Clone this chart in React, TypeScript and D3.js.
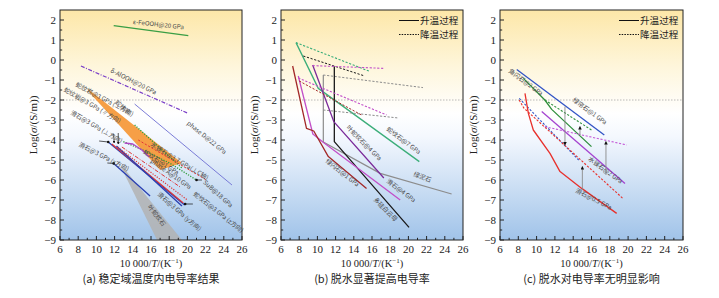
import React from "react";
import * as d3 from "d3";

const W = 719, H = 298;
const TOP = 10, PH = 230;
const X_DOMAIN: [number, number] = [6, 26];
const Y_DOMAIN: [number, number] = [-9, 2.5];
const X_TICKS = d3.range(6, 27, 2);
const X_MINOR = d3.range(7, 26, 2);
const Y_TICKS = d3.range(-9, 3, 1);
const Y_MINOR = d3.range(-8.5, 2.5, 1);

// ---------- Panel (a) data ----------
const a_FeOOH = [[11.9, 1.72], [20.1, 1.22]];
const a_AlOOH = [[8.3, -0.3], [20.1, -2.67]];
const a_phaseD = [[14.2, -2.2], [24.9, -6.25]];
const a_serpBand = [[9.08, -1.45], [19.4, -5.15], [17.0, -5.5], [9.08, -1.55]];
const a_antigBand = [[12.7, -5.35], [13.0, -5.4], [19.4, -9], [16.66, -9]];
const a_blue1 = [[11.3, -4.1], [19.7, -7.25]];
const a_blue2 = [[12.2, -4.3], [19.4, -7.3]];
const a_red1 = [[11.7, -4.2], [19.55, -7.15]];
const a_blueShort = [[11.9, -5.17], [15.9, -6.8]];
const a_redDash = [[12.3, -4.35], [20.0, -7.0]];
const a_phaseA = [[12.8, -4.35], [19.2, -6.35]];
const a_SuB = [[12.96, -4.08], [15.5, -4.58], [18.1, -5.17], [21.0, -6.0]];
const a_purple = [[13.1, -4.15], [14.0, -4.2], [15.0, -4.5], [15.8, -4.85]];
const a_bruciteG = [[14.2, -3.25], [19.4, -5.4]];
const a_bruciteR = [[14.6, -4.0], [22.1, -6.0]];

// ---------- Panel (b) data ----------
const b_greenUp = [[7.65, 0.87], [10.1, -1.42], [21.2, -5.08]];
const b_greenDown = [[7.65, 0.87], [15.8, -0.58]];
const b_blackUp = [[11.86, -0.33], [11.86, -4.08], [20.07, -8.37]];
const b_blackDown = [[8.45, 0.2], [15.2, -0.8]];
const b_grayUp = [[10.65, -0.75], [10.65, -4.1], [16.9, -5.67], [24.75, -6.7]];
const b_grayDown1 = [[10.65, -0.75], [21.6, -1.38]];
const b_grayDown2 = [[10.65, -2.5], [18.9, -2.9]];
const b_purpleUp = [[9.48, -0.25], [11.8, -3.08], [17.3, -5.9]];
const b_purpleDown = [[9.48, -0.28], [17.4, -0.42]];
const b_magentaUp = [[7.9, -0.8], [9.5, -3.7], [10.6, -4.1], [19.1, -7.0]];
const b_magentaDown = [[7.9, -0.9], [17.6, -2.75]];
const b_redUp = [[7.28, -0.3], [8.8, -3.42], [9.6, -3.55], [11.2, -4.83], [15.4, -6.42]];
const b_redDown = [[8.0, -1.05], [14.85, -2.75]];

// ---------- Panel (c) data ----------
const c_blueUp = [[7.83, -0.47], [17.4, -3.75]];
const c_blueDown = [[8.1, -1.92], [14.6, -5.0]];
const c_greenUp = [[8.55, -0.92], [10.9, -2.0], [11.65, -2.47], [16.0, -4.33]];
const c_greenDown = [[10.9, -2.0], [16.0, -3.5]];
const c_purpleUp = [[10.56, -2.58], [19.66, -6.17]];
const c_purpleDown = [[10.9, -3.33], [19.85, -4.25]];
const c_redUp = [[8.73, -1.67], [9.1, -2.67], [9.64, -3.5], [11.46, -4.67], [12.56, -5.58], [14.93, -6.42], [18.75, -7.67]];
const c_redDown = [[8.1, -2.0], [8.6, -2.4], [19.5, -6.95]];
const c_arrows = [[13.1, -2.33, -4.25], [14.74, -3.75, -3.33], [17.58, -5.75, -4.08], [15.0, -6.5, -5.33]];

type Pt = number[];
interface Series { pts: Pt[]; color: string; dash?: string; w?: number }
interface Label { text: string; x: number; y: number; a: number }

const DASH = "2.2,1.6";
const DOT = "1.2,1.4";
const DASHDOT = "4,1.5,1,1.5";

const seriesA: Series[] = [
  { pts: a_FeOOH, color: "#3a9e45", w: 1.4 },
  { pts: a_AlOOH, color: "#7a3fc8", dash: DASHDOT, w: 1.2 },
  { pts: a_phaseD, color: "#6d6ed2", w: 0.9 },
  { pts: a_blue1, color: "#2a3fb2", w: 1.3 },
  { pts: a_red1, color: "#e03535", w: 1.1 },
  { pts: a_blue2, color: "#2a3fb2", w: 1.3 },
  { pts: a_blueShort, color: "#2a3fb2", w: 1.3 },
  { pts: a_redDash, color: "#e03535", dash: DOT, w: 1.2 },
  { pts: a_phaseA, color: "#e03535", dash: DASHDOT, w: 1.0 },
  { pts: a_SuB, color: "#2a9a35", dash: DOT, w: 1.3 },
  { pts: a_purple, color: "#b045c8", w: 1.3 },
  { pts: a_bruciteG, color: "#2a9a35", dash: DOT, w: 1.3 },
  { pts: a_bruciteR, color: "#e03535", dash: DASH, w: 1.0 },
];
const bandsA = [
  { pts: a_serpBand, color: "#f59a3c", op: 0.95 },
  { pts: a_antigBand, color: "#b3b3b3", op: 0.85 },
];
const labelsA: Label[] = [
  { text: "ε-FeOOH@20 GPa", x: 14.0, y: 1.8, a: 6 },
  { text: "δ-AlOOH@20 GPa", x: 11.5, y: -0.6, a: 27 },
  { text: "蛇纹岩@3 GPa (⊥方向)", x: 7.65, y: -1.3, a: 28 },
  { text: "蛇纹岩@3 GPa (∥方向)", x: 6.35, y: -1.55, a: 30 },
  { text: "滑石@3 GPa (⊥方向)", x: 7.1, y: -2.7, a: 30 },
  { text: "滑石@3 GPa (x方向)", x: 8.0, y: -4.3, a: 27 },
  { text: "蛇纹岩", x: 12.0, y: -2.15, a: 40 },
  { text: "phase D@22 GPa", x: 19.9, y: -3.2, a: 39 },
  { text: "水镁石@3.7 GPa(⊥C轴)", x: 15.9, y: -4.3, a: 31 },
  { text: "蛇纹石@1 GPa", x: 15.1, y: -4.65, a: 33 },
  { text: "phase A@10 GPa", x: 15.9, y: -5.1, a: 35 },
  { text: "SuB@18 GPa", x: 21.7, y: -6.15, a: 42 },
  { text: "蛇纹石@3 GPa (z方向)", x: 20.6, y: -6.75, a: 38 },
  { text: "滑石@3 GPa (y方向)", x: 16.66, y: -6.75, a: 41 },
  { text: "叶蛇纹石", x: 15.6, y: -7.35, a: 52 },
];
// leader lines [x1,y1,x2,y2,kind] kind 0 = dot end, 1 = arrow end
const leadersA = [
  [10.3, -4.05, 11.3, -4.1, 0],
  [11.2, -5.15, 11.9, -5.17, 0],
  [20.6, -7.2, 19.75, -7.2, 0],
  [21.6, -6.0, 21.0, -6.0, 0],
  [12.4, -3.65, 12.4, -4.2, 1],
  [11.9, -3.7, 11.95, -4.15, 1],
];

const seriesB: Series[] = [
  { pts: b_greenUp, color: "#3cae7a", w: 1.3 },
  { pts: b_greenDown, color: "#3cae7a", dash: DASH, w: 1.1 },
  { pts: b_grayUp, color: "#8c8c8c", w: 1.2 },
  { pts: b_grayDown1, color: "#8c8c8c", dash: DASH, w: 1.0 },
  { pts: b_grayDown2, color: "#8c8c8c", dash: DASH, w: 1.0 },
  { pts: b_blackUp, color: "#1a1a1a", w: 1.3 },
  { pts: b_blackDown, color: "#1a1a1a", dash: DASH, w: 1.0 },
  { pts: b_purpleUp, color: "#7b2b9a", w: 1.3 },
  { pts: b_purpleDown, color: "#c24fc8", dash: DASH, w: 1.1 },
  { pts: b_magentaUp, color: "#c24fc8", w: 1.3 },
  { pts: b_magentaDown, color: "#c24fc8", dash: DASH, w: 1.1 },
  { pts: b_redUp, color: "#a32828", w: 1.3 },
  { pts: b_redDown, color: "#a32828", dash: DASH, w: 1.0 },
];
const labelsB: Label[] = [
  { text: "叶蛇纹石@4 GPa", x: 13.14, y: -3.4, a: 45 },
  { text: "蛇纹石@7 GPa", x: 17.54, y: -3.5, a: 37 },
  { text: "绿泥石", x: 20.5, y: -5.8, a: 20 },
  { text: "滑石@4 GPa", x: 17.54, y: -6.1, a: 37 },
  { text: "绿闪石@1 GPa", x: 10.84, y: -5.1, a: 38 },
  { text: "多硅白云母", x: 16.1, y: -7.0, a: 45 },
];

const seriesC: Series[] = [
  { pts: c_blueUp, color: "#3355c6", w: 1.3 },
  { pts: c_blueDown, color: "#3355c6", dash: DASH, w: 1.1 },
  { pts: c_greenUp, color: "#2f8f3c", w: 1.3 },
  { pts: c_greenDown, color: "#2f8f3c", dash: DASH, w: 1.1 },
  { pts: c_purpleUp, color: "#a544d0", w: 1.3 },
  { pts: c_purpleDown, color: "#c45ad8", dash: DASH, w: 1.1 },
  { pts: c_redUp, color: "#e8302c", w: 1.3 },
  { pts: c_redDown, color: "#e8302c", dash: DASH, w: 1.1 },
];
const labelsC: Label[] = [
  { text: "角闪石@2 GPa", x: 6.87, y: -0.6, a: 36 },
  { text: "绿帘石@1 GPa", x: 13.87, y: -2.05, a: 36 },
  { text: "水镁石@2 GPa", x: 15.6, y: -5.0, a: 36 },
  { text: "滑石@0.5 GPa", x: 14.2, y: -6.6, a: 27 },
];

const CAPTIONS = ["(a) 稳定域温度内电导率结果", "(b) 脱水显著提高电导率", "(c) 脱水对电导率无明显影响"];
const LEGEND = ["升温过程", "降温过程"];

const SERIF = "'Liberation Serif','Times New Roman',serif";
const CJK = "'Noto Sans CJK SC','Noto Sans',sans-serif";

function Panel(props: {
  left: number; width: number; series: Series[]; labels: Label[];
  bands?: { pts: Pt[]; color: string; op: number }[];
  leaders?: number[][]; arrows?: number[][]; legend?: boolean; caption: string;
}) {
  const { left, width, series, labels, bands = [], leaders = [], arrows = [], legend, caption } = props;
  const x = d3.scaleLinear().domain(X_DOMAIN).range([left, left + width]);
  const y = d3.scaleLinear().domain(Y_DOMAIN).range([TOP + PH, TOP]);
  const line = d3.line<Pt>().x(d => x(d[0])).y(d => y(d[1]));
  const bottom = TOP + PH;
  const right = left + width;
  const cx = left + width / 2;
  return (
    <g>
      <rect x={left} y={TOP} width={width} height={PH} fill="url(#bg)" />
      <line x1={left} x2={right} y1={y(-2)} y2={y(-2)} stroke="#a8a8a8" strokeWidth={0.8} strokeDasharray="1.5,1.5" />
      {bands.map((b, i) => (
        <path key={"b" + i} d={line(b.pts) + "Z"} fill={b.color} opacity={b.op} />
      ))}
      {series.map((s, i) => (
        <path key={"s" + i} d={line(s.pts) || ""} fill="none" stroke={s.color} strokeWidth={s.w || 1.2} strokeDasharray={s.dash} strokeLinejoin="round" />
      ))}
      {arrows.map((a, i) => (
        <line key={"a" + i} x1={x(a[0])} x2={x(a[0])} y1={y(a[1])} y2={y(a[2])} stroke="#8a8a8a" strokeWidth={0.9} markerEnd="url(#arr)" />
      ))}
      {leaders.map((l, i) => (
        <g key={"l" + i}>
          <line x1={x(l[0])} y1={y(l[1])} x2={x(l[2])} y2={y(l[3])} stroke="#111" strokeWidth={0.7} markerEnd={l[4] ? "url(#arr)" : undefined} />
          {l[4] ? null : <circle cx={x(l[2])} cy={y(l[3])} r={1.3} fill="#111" />}
        </g>
      ))}
      {labels.map((t, i) => (
        <text key={"t" + i} transform={`translate(${x(t.x)},${y(t.y)}) rotate(${t.a})`} fontFamily={CJK} fontSize={6.2} fill="#4a4a4a">{t.text}</text>
      ))}
      {legend && (
        <g fontFamily={CJK} fontSize={9.6} fill="#222">
          <line x1={right - 64} x2={right - 44} y1={20.5} y2={20.5} stroke="#111" strokeWidth={1} />
          <text x={right - 43} y={24}>{LEGEND[0]}</text>
          <line x1={right - 64} x2={right - 44} y1={34.5} y2={34.5} stroke="#111" strokeWidth={1} strokeDasharray="1.5,1.2" />
          <text x={right - 43} y={38}>{LEGEND[1]}</text>
        </g>
      )}
      <rect x={left} y={TOP} width={width} height={PH} fill="none" stroke="#222" strokeWidth={1} />
      {X_TICKS.map(v => (
        <g key={"xt" + v}>
          <line x1={x(v)} x2={x(v)} y1={bottom} y2={bottom - 4} stroke="#222" strokeWidth={1} />
          <text x={x(v)} y={bottom + 13} textAnchor="middle" fontFamily={SERIF} fontSize={11} fill="#222">{v}</text>
        </g>
      ))}
      {X_MINOR.map(v => (
        <line key={"xm" + v} x1={x(v)} x2={x(v)} y1={bottom} y2={bottom - 2.2} stroke="#222" strokeWidth={1} />
      ))}
      {Y_TICKS.map(v => (
        <g key={"yt" + v}>
          <line x1={left} x2={left + 4} y1={y(v)} y2={y(v)} stroke="#222" strokeWidth={1} />
          <text x={left - 4} y={y(v) + 4} textAnchor="end" fontFamily={SERIF} fontSize={11} fill="#222">{d3.format("")(v)}</text>
        </g>
      ))}
      {Y_MINOR.map(v => (
        <line key={"ym" + v} x1={left} x2={left + 2.2} y1={y(v)} y2={y(v)} stroke="#222" strokeWidth={1} />
      ))}
      <text transform={`translate(${left - 23},${TOP + PH / 2}) rotate(-90)`} textAnchor="middle" fontFamily={SERIF} fontSize={11} fill="#222">
        Log(<tspan fontStyle="italic">σ</tspan>/(S/m))
      </text>
      <text x={cx} y={bottom + 27} textAnchor="middle" fontFamily={SERIF} fontSize={10.5} fill="#222">
        10 000/<tspan fontStyle="italic">T</tspan>/(K<tspan fontSize={7} dy={-4}>−1</tspan><tspan dy={4}>)</tspan>
      </text>
      <text x={cx} y={bottom + 43} textAnchor="middle" fontFamily={CJK} fontSize={11} fill="#222">{caption}</text>
    </g>
  );
}

export default function App() {
  return (
    <svg width={W} height={H} style={{ position: "fixed", left: 0, top: 0, background: "#fff" }}>
      <defs>
        <linearGradient id="bg" x1="0" y1="0" x2="0" y2="1">
          <stop offset="0" stopColor="#fde7a8" />
          <stop offset="0.25" stopColor="#fef6dc" />
          <stop offset="0.45" stopColor="#ffffff" />
          <stop offset="0.55" stopColor="#f4f8fe" />
          <stop offset="1" stopColor="#a0c3e9" />
        </linearGradient>
        <marker id="arr" viewBox="0 0 6 6" refX="5" refY="3" markerWidth="4" markerHeight="4" orient="auto">
          <path d="M0,0L6,3L0,6Z" fill="#111" />
        </marker>
      </defs>
      <Panel left={60} width={182} series={seriesA} labels={labelsA} bands={bandsA} leaders={leadersA} caption={CAPTIONS[0]} />
      <Panel left={281} width={182} series={seriesB} labels={labelsB} legend caption={CAPTIONS[1]} />
      <Panel left={500} width={183} series={seriesC} labels={labelsC} arrows={c_arrows} legend caption={CAPTIONS[2]} />
    </svg>
  );
}
